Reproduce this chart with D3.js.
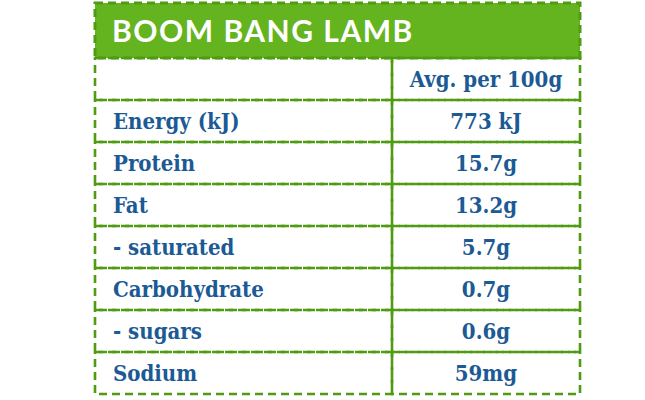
<!DOCTYPE html><html><head><meta charset="utf-8"><script src="https://cdn.jsdelivr.net/npm/d3@7"></script>
<style>body{margin:0;background:#fff}</style></head><body><svg width="645" height="400"></svg><script>
const title="Boom Bang Lamb";
const header="Avg. per 100g";
const nutrients=["Energy (kJ)","Protein","Fat","- saturated","Carbohydrate","- sugars","Sodium"];
const values=["773 kJ","15.7g","13.2g","5.7g","0.7g","0.6g","59mg"];
const svg=d3.select("svg");
const rows=[""].concat(nutrients);
const y=d3.scaleBand().domain(d3.range(rows.length)).range([58,394]);
const x0=95,x1=392,x2=580;
const blue="#1b5a94",dash="#4f9c12";
svg.append("rect").attr("x",x0).attr("y",3).attr("width",x2-x0).attr("height",55).attr("fill","#64b41f")
 .attr("stroke",dash).attr("stroke-width",3).attr("stroke-dasharray","8,5");
svg.append("text").attr("x",112).attr("y",42).attr("fill","#fff").attr("font-family","Lato").attr("font-weight","bold")
 .attr("font-size",30).text(title.toUpperCase()).attr("letter-spacing",1.5);
const g=svg.selectAll("g.r").data(rows).join("g");
g.append("rect").attr("x",x0).attr("y",(d,i)=>y(i)).attr("width",x1-x0).attr("height",y.bandwidth())
 .attr("fill","none").attr("stroke",dash).attr("stroke-width",2.6).attr("stroke-dasharray","8,5");
g.append("rect").attr("x",x1).attr("y",(d,i)=>y(i)).attr("width",x2-x1).attr("height",y.bandwidth())
 .attr("fill","none").attr("stroke",dash).attr("stroke-width",2.6).attr("stroke-dasharray","8,5");
g.append("text").attr("x",113).attr("y",(d,i)=>y(i)+y.bandwidth()/2+8).text(d=>d)
 .attr("fill",blue).attr("font-family","DejaVu Serif Condensed, DejaVu Serif").attr("font-weight","bold").attr("font-size",22);
g.append("text").attr("x",(x1+x2)/2).attr("text-anchor","middle").attr("y",(d,i)=>y(i)+y.bandwidth()/2+8)
 .text((d,i)=>i==0?header:values[i-1])
 .attr("fill",blue).attr("font-family","DejaVu Serif Condensed, DejaVu Serif").attr("font-weight","bold").attr("font-size",22);
</script></body></html>
